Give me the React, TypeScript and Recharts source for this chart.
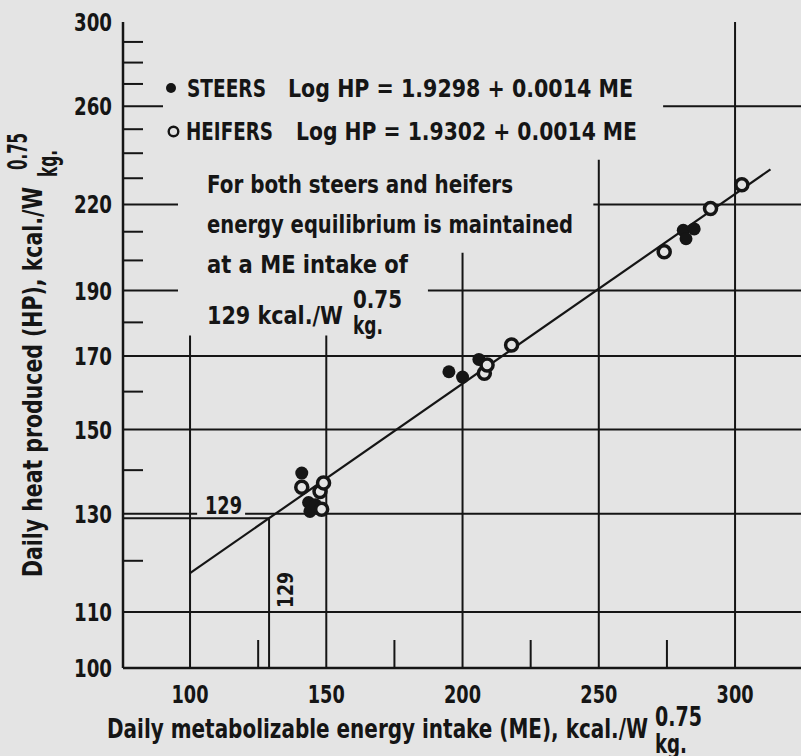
import { ComposedChart, Scatter, XAxis, YAxis, ReferenceLine } from 'recharts';

// values (ME = kcal/W^0.75, HP = kcal/W^0.75)
const steerME = [141, 143.5, 144, 146, 195, 200, 206, 281, 282, 285];
const steerHP = [139.3, 132.5, 130.5, 132, 165.5, 164, 169, 210.5, 207.5, 211];
const heiferME = [141, 147.7, 148.3, 149, 208, 209, 218, 274, 291, 302.5];
const heiferHP = [136, 135, 131, 137, 165.1, 167.4, 173.2, 203, 218.5, 227.5];
const fitME = [100, 313];
const fitHP = [117.5, 233.5];
const equilibrium = 129;

const meTicks = [100, 125, 150, 175, 200, 225, 250, 275, 300];
const meLabels = [100, 150, 200, 250, 300];
const hpTicks = [100, 110, 120, 130, 140, 150, 160, 170, 180, 190, 200, 210, 220, 230, 240, 250, 260, 270, 280, 290, 300];
const hpLabels = [100, 110, 130, 150, 170, 190, 220, 260, 300];

const steers = steerME.map((me, i) => ({ me, hp: steerHP[i] }));
const heifers = heiferME.map((me, i) => ({ me, hp: heiferHP[i] }));
const fit = fitME.map((me, i) => ({ me, hp: fitHP[i] }));

const INK = '#151515';
const BG = '#e4e4e4';
const FONT = "'DejaVu Sans Condensed', 'Liberation Sans Narrow', 'DejaVu Sans', sans-serif";
const X0 = 75.4;
const X1 = 324.2;

// grid pieces: the printed grid is broken up around the text block
const fullHP = [110, 150, 170];
const brokenHP = [[260, 273.6], [220, 248], [190, 187.3]];
const stubLen: Record<number, number> = { 260: 40, 220: 55, 190: 55 };
const vLines = [[100, 176], [150, 176], [200, 202.6], [250, 237.3]];

const tickText = { fontFamily: FONT, fontWeight: 700, fontSize: 25, fill: INK };

const LeftTick = (p: any) => {
  const v = p.payload.value;
  const len = stubLen[v] ?? (hpLabels.includes(v) ? 0 : 20);
  return (
    <g>
      {len > 0 && <line x1={p.x} x2={p.x + len} y1={p.y} y2={p.y} stroke={INK} strokeWidth={2} />}
      {hpLabels.includes(v) && (
        <text x={p.x - 11} y={p.y + 9} textAnchor="end" textLength={38} lengthAdjust="spacingAndGlyphs" {...tickText}>
          {v}
        </text>
      )}
    </g>
  );
};

const RightTick = (p: any) => {
  const v = p.payload.value;
  if (hpLabels.includes(v)) return <g />;
  return <line x1={p.x} x2={p.x - 17} y1={p.y} y2={p.y} stroke={INK} strokeWidth={2} />;
};

const BottomTick = (p: any) => {
  const v = p.payload.value;
  return (
    <g>
      {!meLabels.includes(v) && <line x1={p.x} x2={p.x} y1={p.y} y2={p.y - 28} stroke={INK} strokeWidth={2} />}
      {meLabels.includes(v) && (
        <text x={p.x} y={p.y + 35} textAnchor="middle" textLength={37} lengthAdjust="spacingAndGlyphs" {...tickText}>
          {v}
        </text>
      )}
    </g>
  );
};

const TopTick = (p: any) => {
  const v = p.payload.value;
  if (v === 300) return <g />;
  const len = meLabels.includes(v) ? 44 : 28;
  return <line x1={p.x} x2={p.x} y1={p.y} y2={p.y + len} stroke={INK} strokeWidth={2} />;
};

const Dot = (p: any) => <circle cx={p.cx} cy={p.cy} r={6.5} fill={INK} />;
const Ring = (p: any) => <circle cx={p.cx} cy={p.cy} r={6} fill={BG} stroke={INK} strokeWidth={3.5} />;
const None = () => <g />;

const T = ({ x, y, w, size = 25, rot = false, children }: any) => (
  <text
    x={rot ? 0 : x}
    y={rot ? 0 : y}
    transform={rot ? `translate(${x},${y}) rotate(-90)` : undefined}
    textLength={w}
    lengthAdjust="spacingAndGlyphs"
    fontFamily={FONT}
    fontWeight={700}
    fontSize={size}
    fill={INK}
  >
    {children}
  </text>
);

const App = () => {
  const ax = { xAxisId: 'b', yAxisId: 'l' };
  const line = { stroke: INK, strokeWidth: 2 };
  return (
    <div style={{ position: 'absolute', left: 0, top: 0, width: 801, height: 756, background: BG }}>
      <ComposedChart width={801} height={756} margin={{ top: 22, right: 0, bottom: 0, left: 0 }}>
        <XAxis xAxisId="b" type="number" dataKey="me" domain={[X0, X1]} allowDataOverflow ticks={meTicks} interval={0}
          height={88} tickSize={0} tickMargin={0} tickLine={false} tick={BottomTick}
          axisLine={{ stroke: INK, strokeWidth: 2.5 }} />
        <XAxis xAxisId="t" orientation="top" type="number" dataKey="me" domain={[X0, X1]} allowDataOverflow ticks={meTicks} interval={0}
          height={0} tickSize={0} tickMargin={0} tickLine={false} tick={TopTick}
          axisLine={{ stroke: INK, strokeWidth: 2.5 }} />
        <YAxis yAxisId="l" type="number" dataKey="hp" scale="log" domain={[100, 300]} allowDataOverflow ticks={hpTicks} interval={0}
          width={123} tickSize={0} tickMargin={0} tickLine={false} tick={LeftTick}
          axisLine={{ stroke: INK, strokeWidth: 2.5 }} />
        <YAxis yAxisId="r" orientation="right" type="number" dataKey="hp" scale="log" domain={[100, 300]} allowDataOverflow ticks={hpTicks} interval={0}
          width={0} tickSize={0} tickMargin={0} tickLine={false} tick={RightTick} axisLine={false} />

        {fullHP.map((hp) => (
          <ReferenceLine key={'h' + hp} {...ax} y={hp} {...line} />
        ))}
        {brokenHP.map(([hp, from]) => (
          <ReferenceLine key={'bh' + hp} {...ax} segment={[{ x: from, y: hp }, { x: X1, y: hp }]} {...line} />
        ))}
        <ReferenceLine {...ax} segment={[{ x: X0, y: 130 }, { x: 102.6, y: 130 }]} {...line} />
        <ReferenceLine {...ax} segment={[{ x: 120.2, y: 130 }, { x: X1, y: 130 }]} {...line} />
        {vLines.map(([me, top]) => (
          <ReferenceLine key={'v' + me} {...ax} segment={[{ x: me, y: 100 }, { x: me, y: top }]} {...line} />
        ))}
        <ReferenceLine {...ax} x={300} {...line} />
        <ReferenceLine {...ax} segment={[{ x: X0, y: equilibrium }, { x: equilibrium, y: equilibrium }]} {...line} />
        <ReferenceLine {...ax} segment={[{ x: equilibrium, y: 100 }, { x: equilibrium, y: equilibrium }]} {...line} />

        <Scatter {...ax} data={fit} line={{ stroke: INK, strokeWidth: 2.2 }} lineType="joint" shape={None} isAnimationActive={false} />
        <Scatter {...ax} data={steers} shape={Dot} isAnimationActive={false} />
        <Scatter {...ax} data={heifers} shape={Ring} isAnimationActive={false} />
      </ComposedChart>

      <svg width={801} height={756} style={{ position: 'absolute', left: 0, top: 0, pointerEvents: 'none' }}>
        {/* legend */}
        <circle cx={171} cy={88} r={5} fill={INK} />
        <T x={187} y={97} w={79}>STEERS</T>
        <T x={288} y={97} w={345}>Log HP = 1.9298 + 0.0014 ME</T>
        <circle cx={173.5} cy={131.5} r={4.8} fill="none" stroke={INK} strokeWidth={2.4} />
        <T x={186} y={140} w={87}>HEIFERS</T>
        <T x={296} y={140} w={341}>Log HP = 1.9302 + 0.0014 ME</T>

        {/* note */}
        <T x={207} y={193} w={306}>For both steers and heifers</T>
        <T x={207} y={233} w={366}>energy equilibrium is maintained</T>
        <T x={207} y={273} w={201}>at a ME intake of</T>
        <T x={207} y={324} w={136}>129 kcal./W</T>
        <T x={353} y={308} w={49}>0.75</T>
        <T x={353} y={334} w={30}>kg.</T>

        {/* equilibrium labels */}
        <T x={205} y={514} w={37} size={24}>129</T>
        <T x={293} y={608} w={36} size={22} rot>129</T>

        {/* axis titles */}
        <T x={107} y={738} w={541} size={26}>Daily metabolizable energy intake (ME), kcal./W</T>
        <T x={655} y={726} w={47} size={26}>0.75</T>
        <T x={655} y={753} w={32} size={26}>kg.</T>
        <T x={42} y={577} w={390} size={26} rot>Daily heat produced (HP), kcal./W</T>
        <T x={27} y={170} w={37} size={26} rot>0.75</T>
        <T x={57} y={177} w={27} size={26} rot>kg.</T>
      </svg>
    </div>
  );
};

export default App;
